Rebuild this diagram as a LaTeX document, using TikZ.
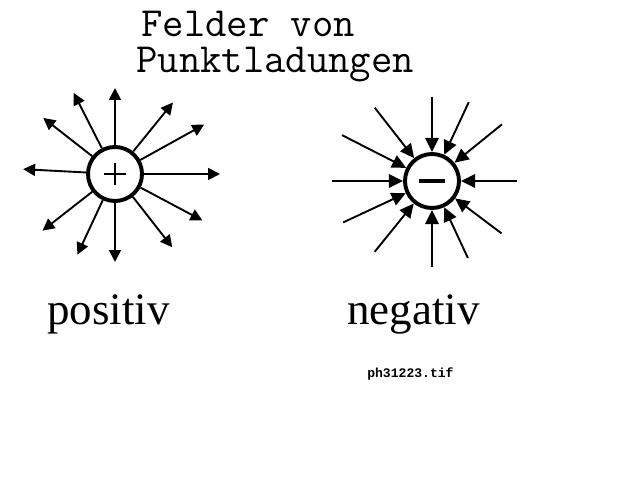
\documentclass[tikz,border=0pt]{standalone}
\usepackage{fontspec}
\setmainfont{Liberation Serif}
\newfontfamily\tifont{Liberation Mono}
\usepackage{tikz}
\newcommand{\chargesize}{1.35cm}
\usetikzlibrary{arrows.meta,calc}
\tikzset{
  x=0.025cm,y=0.025cm,
  charge/.style={draw,shape=circle,line width=2.8pt,minimum size=\chargesize,inner sep=0},
  fieldline/.style={draw,line width=1.35pt,-{Triangle[length=8.5pt,width=8.5pt]}},
  title/.style={font=\fontsize{29.5}{26.3}\selectfont\ttfamily,align=left,anchor=base west,inner sep=0},
  sign/.style={font=\fontsize{32}{34}\selectfont,anchor=base west,inner sep=0},
}
\begin{document}
\begin{tikzpicture}
  \useasboundingbox (0,0) rectangle (640,480);
  \node (title) [title] at (136,407) {\hspace*{0.125cm}Felder von\\Punktladungen};
  % positive charge
  \node (pos) [charge] at (115,306) {};
  \draw[line width=1pt] ($(pos)-(11,0)$) -- ($(pos)+(11,0)$) ($(pos)-(0,11)$) -- ($(pos)+(0,11)$);
  \foreach \a/\l [count=\i] in {90/86,51/92,29/102,0/105,-28/99,-52/93,-90/88,-115/89,-142/92,177/92,142/91,117/91}{
    \coordinate (p\i) at ($(pos)+(\a:\l)$);
    \path [fieldline] (pos) -- (p\i);
  }
  % negative charge
  \node (neg) [charge] at (432,299) {};
  \draw[line width=3pt] ($(neg)-(13,0)$) -- ($(neg)+(13,0)$);
  \foreach \a/\l [count=\i] in {90/84,65/87,39/90,0/85,-37/87,-65/85,-90/86,-129/91,-155/98,180/100,153/101,128/93}{
    \coordinate (n\i) at ($(neg)+(\a:\l)$);
    \path [fieldline,-{Triangle[length=10pt,width=9.5pt]}] (n\i) -- (neg);
  }
  \node (lpos) [sign] at (47,155) {positiv};
  \node (lneg) [sign] at (347,155) {negativ};
  \node (file) [font=\tifont\bfseries\fontsize{9.3}{10}\selectfont,anchor=base west,inner sep=0] at (367,102) {ph31223.tif};
\end{tikzpicture}
\end{document}
